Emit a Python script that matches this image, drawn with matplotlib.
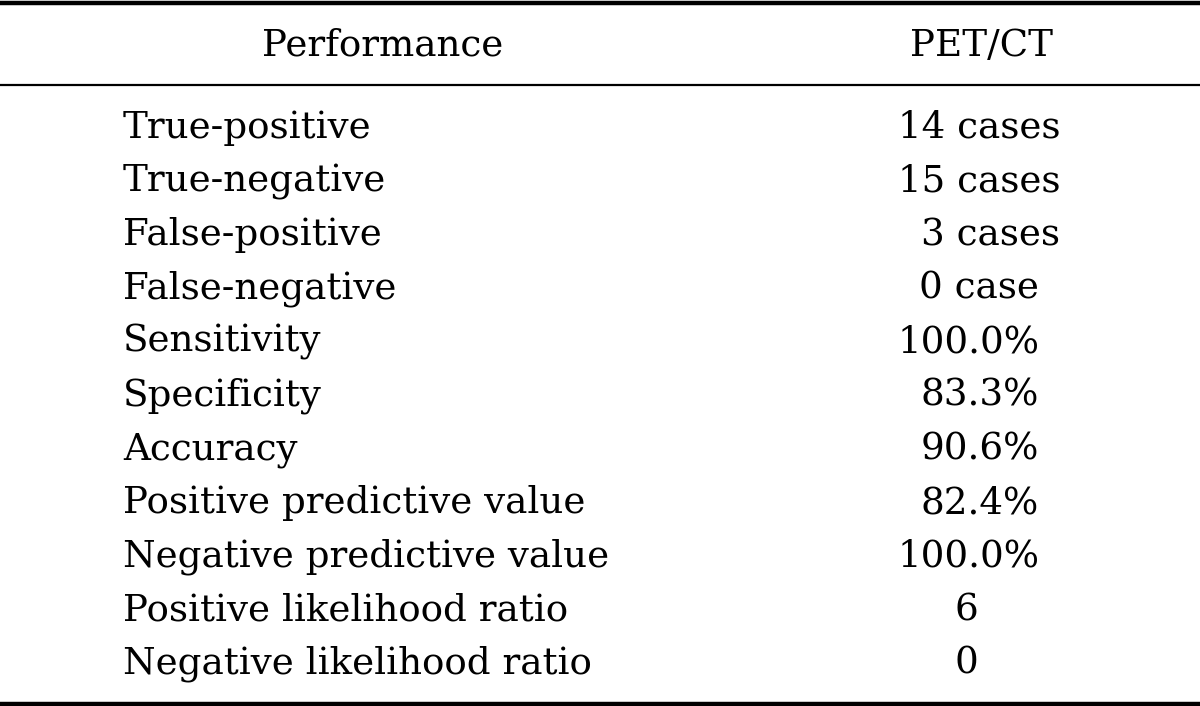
import matplotlib.pyplot as plt

# Table content
header = ["Performance", "PET/CT"]
measures = [
    "True-positive", "True-negative", "False-positive", "False-negative",
    "Sensitivity", "Specificity", "Accuracy",
    "Positive predictive value", "Negative predictive value",
    "Positive likelihood ratio", "Negative likelihood ratio",
]
pet_ct = [
    "14 cases", "15 cases", "3 cases", "0 case",
    "100.0%", "83.3%", "90.6%", "82.4%", "100.0%",
    "6", "0",
]

W, H = 1200, 706
fig = plt.figure(figsize=(W / 100, H / 100), dpi=100)
ax = fig.add_axes([0, 0, 1, 1])
ax.set_xlim(0, W)
ax.set_ylim(H, 0)
ax.axis("off")

font = dict(family="DejaVu Serif", fontsize=26.8, color="black")

# rules
ax.axhline(2.5, color="black", lw=3.2)
ax.axhline(84.5, color="black", lw=1.6)
ax.axhline(703.5, color="black", lw=3.2)

# header
ax.text(383, 46, header[0], ha="center", va="center", **font)
ax.text(981, 46, header[1], ha="center", va="center", **font)

# rows
y0, step = 128, 53.6
for i, (m, v) in enumerate(zip(measures, pet_ct)):
    y = y0 + i * step
    ax.text(123, y, m, ha="left", va="center", **font)
    if v.endswith("cases"):
        x, ha = 1060, "right"
    elif v.endswith("case"):
        x, ha = 1039, "right"
    elif v.endswith("%"):
        x, ha = 1039, "right"
    else:
        x, ha = 966, "center"
    ax.text(x, y, v, ha=ha, va="center", **font)

fig.savefig("out.png", dpi=100, facecolor="white")
